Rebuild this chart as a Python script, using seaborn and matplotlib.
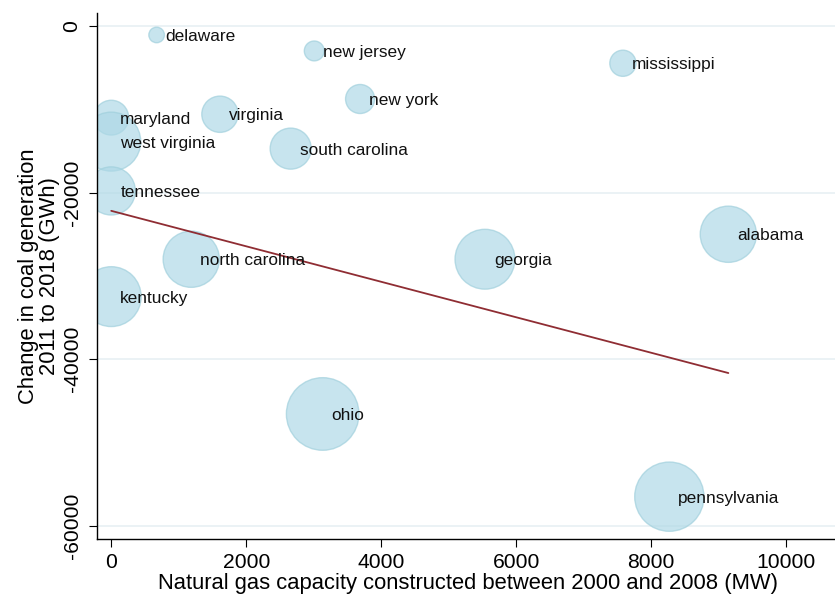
import numpy as np
import pandas as pd
import matplotlib
matplotlib.use("Agg")
import matplotlib.pyplot as plt
import seaborn as sns

# State-level values
states = ["delaware", "new jersey", "mississippi", "new york", "virginia",
          "maryland", "west virginia", "south carolina", "tennessee",
          "north carolina", "kentucky", "georgia", "alabama", "ohio",
          "pennsylvania"]
gas_capacity_mw = [672, 3007, 7579, 3686, 1610,
                   0, 0, 2658, 0,
                   1185, 0, 5536, 9141, 3132,
                   8267]
coal_change_gwh = [-1080, -3000, -4480, -8770, -10600,
                   -11010, -13890, -14730, -19810,
                   -28010, -32500, -28010, -25010, -46590,
                   -56520]
# bubble weights (area proportional)
weight = [4.6, 7.5, 13, 16, 25,
          23, 66, 32, 44,
          60, 68, 68, 60, 100,
          91]

x_ticks = [0, 2000, 4000, 6000, 8000, 10000]
y_ticks = [0, -20000, -40000, -60000]

df = pd.DataFrame({"state": states, "gas": gas_capacity_mw,
                   "coal": coal_change_gwh, "w": weight})

sns.set_style("white")
plt.rcParams["font.family"] = ["Liberation Sans", "DejaVu Sans"]

fig = plt.figure(figsize=(8.35, 6), dpi=100)
ax = fig.add_axes([0.1165, 0.1017, 0.8835, 0.8767])

# bubbles, area proportional to weight
sns.scatterplot(data=df, x="gas", y="coal", size="w",
                sizes=(0, 2732), size_norm=(0, 100), legend=False,
                color="#add8e6", alpha=0.68, edgecolor="#9fcfdc",
                linewidth=1.0, ax=ax, zorder=2)

# weighted linear fit
xv = df["gas"].to_numpy(float)
yv = df["coal"].to_numpy(float)
slope, intercept = np.polyfit(xv, yv, 1, w=np.sqrt(df["w"].to_numpy(float)))
xs = np.array([xv.min(), xv.max()])
sns.lineplot(x=xs, y=intercept + slope * xs, color="#8f2d33",
             linewidth=1.3, ax=ax, zorder=3)

# state labels to the right of each bubble
for name, x, y in zip(states, gas_capacity_mw, coal_change_gwh):
    ax.annotate(name, (x, y), xytext=(6.5, -1), textcoords="offset points",
                ha="left", va="center", fontsize=12.4, color="#111111",
                zorder=4)

ax.set_xlim(-207, 10721)
ax.set_ylim(-61600, 1560)
ax.set_xticks(x_ticks)
ax.set_yticks(y_ticks)
ax.set_xticklabels([str(t) for t in x_ticks])
ax.set_yticklabels([str(t) for t in y_ticks], rotation=90, va="center")

ax.yaxis.grid(True, color="#e8f0f3", linewidth=1.2)
ax.xaxis.grid(False)
ax.set_axisbelow(True)

for side in ("top", "right"):
    ax.spines[side].set_visible(False)
for side in ("left", "bottom"):
    ax.spines[side].set_color("black")
    ax.spines[side].set_linewidth(1.0)

ax.tick_params(axis="both", direction="out", length=5.8, width=0.8,
               color="black", labelsize=15.2, labelcolor="black",
               bottom=True, left=True)
ax.tick_params(axis="x", pad=4.0)
ax.tick_params(axis="y", pad=5.5)

ax.set_xlabel("Natural gas capacity constructed between 2000 and 2008 (MW)",
              fontsize=15.8, color="black")
ax.set_ylabel("Change in coal generation\n2011 to 2018 (GWh)",
              fontsize=15.8, color="black", linespacing=1.05)
ax.xaxis.set_label_coords(0.503, -0.064)
ax.yaxis.set_label_coords(-0.05, 0.5)

fig.savefig("out.png", dpi=100)
